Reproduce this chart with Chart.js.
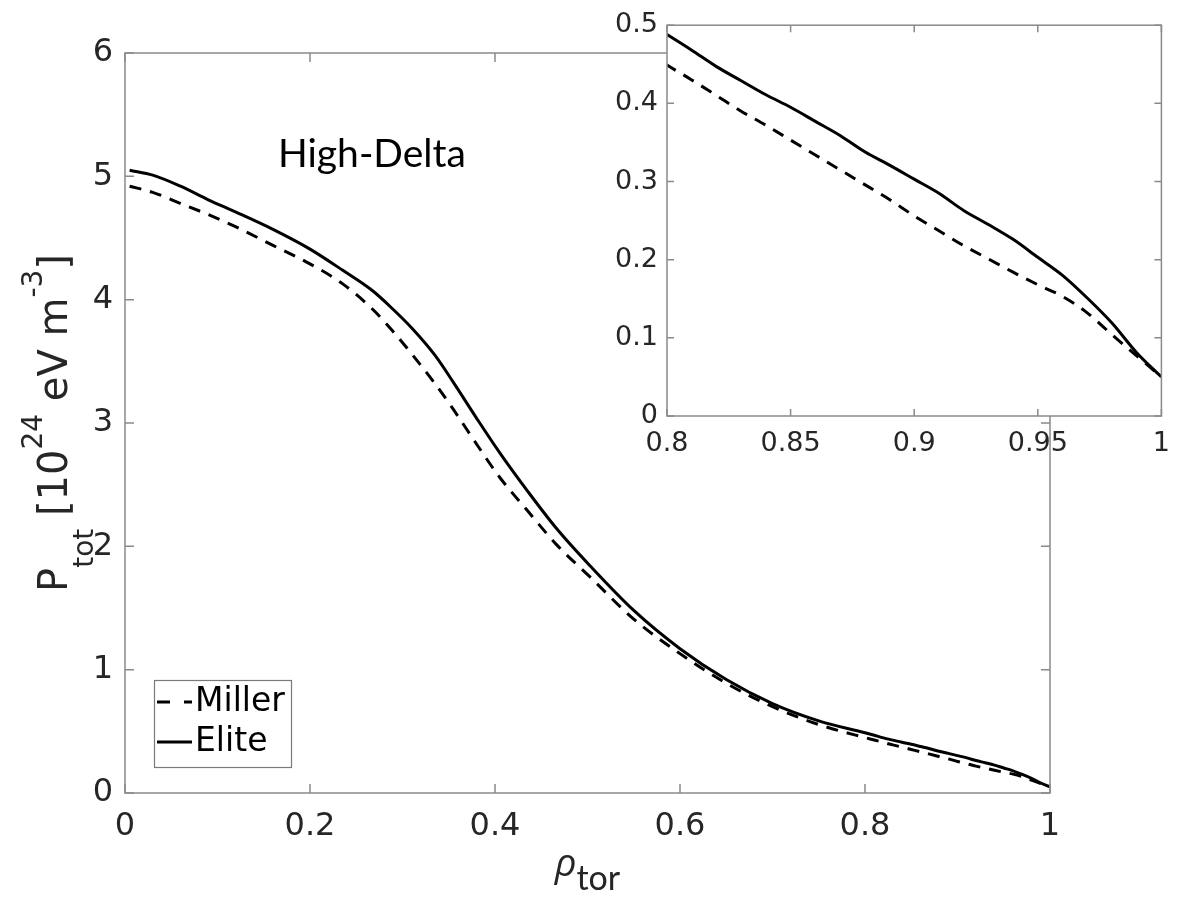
<!DOCTYPE html>
<html><head><meta charset="utf-8">
<script src="https://cdn.jsdelivr.net/npm/chart.js@4.4.0/dist/chart.umd.min.js"></script>
<style>
html,body{margin:0;padding:0;background:#fff;}
#wrap{position:relative;width:1182px;height:901px;overflow:hidden;}
canvas{position:absolute;left:0;top:0;}
</style></head><body>
<div id="wrap"><canvas id="main" width="1182" height="901"></canvas><canvas id="inset" width="1182" height="901"></canvas></div>
<script>
// ---- data ----
const rho = [0.005,0.03,0.06,0.09,0.12,0.16,0.2,0.235,0.268,0.29,0.31,0.335,0.355,0.38,0.405,0.435,0.467,0.503,0.55,0.6,0.65,0.7,0.75,
  0.8,0.81,0.82,0.83,0.84,0.85,0.86,0.87,0.88,0.89,0.9,0.91,0.92,0.93,0.94,0.95,0.96,0.97,0.98,0.99,1.0];
const millerP = [4.92,4.87,4.78,4.69,4.59,4.44,4.29,4.13,3.92,3.74,3.56,3.32,3.11,2.83,2.56,2.29,2.01,1.75,1.41,1.13,0.89,0.70,0.555,
  0.449,0.430,0.410,0.390,0.372,0.353,0.334,0.315,0.296,0.277,0.256,0.237,0.218,0.201,0.184,0.168,0.153,0.132,0.104,0.077,0.050];
const eliteP = [5.05,5.01,4.92,4.81,4.71,4.57,4.41,4.24,4.07,3.92,3.77,3.55,3.33,3.04,2.76,2.45,2.14,1.84,1.48,1.17,0.92,0.725,0.585,
  0.488,0.468,0.447,0.429,0.411,0.395,0.377,0.359,0.338,0.321,0.303,0.285,0.263,0.245,0.226,0.203,0.180,0.151,0.119,0.081,0.050];
const seriesNames = ['Miller','Elite'];
const mainXTicks = [0,0.2,0.4,0.6,0.8,1];
const mainXTickLabels = ['0','0.2','0.4','0.6','0.8','1'];
const mainYTicks = [0,1,2,3,4,5,6];
const mainYTickLabels = ['0','1','2','3','4','5','6'];
const insetXTicks = [0.8,0.85,0.9,0.95,1];
const insetXTickLabels = ['0.8','0.85','0.9','0.95','1'];
const insetYTicks = [0,0.1,0.2,0.3,0.4,0.5];
const insetYTickLabels = ['0','0.1','0.2','0.3','0.4','0.5'];
const annotationText = 'High-Delta';

// ---- helpers ----
const AX = '#8a8a8a', TXT = '#262626';
function pts(ys){ return rho.map((r,i)=>({x:r,y:ys[i]})); }
function datasets(){
  return [
    {label:seriesNames[0], data:pts(millerP), borderColor:'#000', borderWidth:3, borderDash:[12,9], pointRadius:0, cubicInterpolationMode:'monotone', fill:false},
    {label:seriesNames[1], data:pts(eliteP), borderColor:'#000', borderWidth:3, pointRadius:0, cubicInterpolationMode:'monotone', fill:false}
  ];
}
function setTicks(vals){ return function(scale){ scale.ticks = vals.map(v=>({value:v})); }; }
function lbl(vals, labels){ return function(v){ const i = vals.findIndex(t=>Math.abs(t-v)<1e-9); return i>=0?labels[i]:''; }; }

const frame = {
  id:'frame',
  beforeDatasetsDraw(chart,args,o){
    if(o.bg){ const {ctx,chartArea:a}=chart; ctx.save(); ctx.fillStyle=o.bg; ctx.fillRect(a.left,a.top,a.right-a.left,a.bottom-a.top); ctx.restore(); }
  },
  afterDatasetsDraw(chart,args,o){
    const {ctx,chartArea:a,scales}=chart; ctx.save(); ctx.strokeStyle=AX; ctx.lineWidth=o.width||1.5;
    ctx.beginPath();
    for(const t of scales.x.ticks){ const p=scales.x.getPixelForValue(t.value); ctx.moveTo(p,a.bottom); ctx.lineTo(p,a.bottom-o.len); ctx.moveTo(p,a.top); ctx.lineTo(p,a.top+o.len); }
    for(const t of scales.y.ticks){ const p=scales.y.getPixelForValue(t.value); ctx.moveTo(a.left,p); ctx.lineTo(a.left+o.len,p); ctx.moveTo(a.right,p); ctx.lineTo(a.right-o.len,p); }
    ctx.stroke();
    ctx.strokeRect(a.left,a.top,a.right-a.left,a.bottom-a.top);
    ctx.restore();
  }
};

function richWidth(ctx, parts){ let w=0; for(const p of parts){ ctx.font=p.font; w+=ctx.measureText(p.t).width; } return w; }
function drawRich(ctx, parts){ let x=0; for(const p of parts){ ctx.font=p.font; ctx.fillText(p.t, x, p.dy||0); x+=ctx.measureText(p.t).width; } }

const decorations = {
  id:'decorations',
  afterDraw(chart){
    const {ctx,chartArea:a}=chart;
    ctx.save();
    // annotation text
    ctx.fillStyle='#000'; ctx.font='39px Lato, "Open Sans", sans-serif'; ctx.textBaseline='alphabetic'; ctx.textAlign='left';
    ctx.fillText(annotationText, 278, 167);
    // y-axis title
    const big='40px "DejaVu Sans"', sm='28px "DejaVu Sans"';
    const yParts=[{t:'P',font:big},{t:'tot',font:sm,dy:26},{t:' [10',font:big},{t:'24',font:sm,dy:-25},{t:' eV m',font:big},{t:'-3',font:sm,dy:-25},{t:']',font:big}];
    ctx.fillStyle=TXT;
    const yw=richWidth(ctx,yParts);
    ctx.save(); ctx.translate(67,(a.top+a.bottom)/2+yw/2); ctx.rotate(-Math.PI/2); drawRich(ctx,yParts); ctx.restore();
    // x-axis title
    const xParts=[{t:'\u03C1',font:'italic 38px "Open Sans", Lato, sans-serif'},{t:'tor',font:'34px Lato, "Open Sans", sans-serif',dy:14}];
    const xw=richWidth(ctx,xParts);
    ctx.save(); ctx.translate((a.left+a.right)/2-xw/2, 876); drawRich(ctx,xParts); ctx.restore();
    // legend
    const bx=a.left+29, by=a.bottom-113, bw=137, bh=87;
    ctx.fillStyle='#fff'; ctx.fillRect(bx,by,bw,bh);
    ctx.strokeStyle='#7a7a7a'; ctx.lineWidth=1.2; ctx.strokeRect(bx+0.5,by+0.5,bw,bh);
    chart.data.datasets.forEach((ds,i)=>{
      const ly=by+22+i*40;
      ctx.strokeStyle=ds.borderColor; ctx.lineWidth=ds.borderWidth; ctx.setLineDash(ds.borderDash?[13,14]:[]);
      ctx.beginPath(); ctx.moveTo(bx+3,ly); ctx.lineTo(bx+38,ly); ctx.stroke(); ctx.setLineDash([]);
      ctx.fillStyle='#000'; ctx.font='33px "DejaVu Sans"'; ctx.textBaseline='middle';
      ctx.fillText(ds.label, bx+41, ly);
    });
    ctx.restore();
  }
};

const tickFontMain={family:'"DejaVu Sans"',size:32};
const tickFontInset={family:'"DejaVu Sans"',size:27};

new Chart(document.getElementById('main'),{
  type:'line',
  data:{datasets:datasets()},
  plugins:[frame,decorations],
  options:{
    responsive:false, animation:false, devicePixelRatio:1,
    layout:{padding:{left:0,right:132,top:53,bottom:0}},
    plugins:{legend:{display:false},tooltip:{enabled:false},frame:{len:9,width:1.5}},
    scales:{
      x:{type:'linear',min:0,max:1,position:'bottom',afterBuildTicks:setTicks(mainXTicks),
         ticks:{callback:lbl(mainXTicks,mainXTickLabels),font:tickFontMain,color:TXT,padding:14,maxRotation:0,autoSkip:false},
         grid:{display:false,drawTicks:false},border:{display:false},afterFit:s=>{s.height=108;}},
      y:{type:'linear',min:0,max:6,afterBuildTicks:setTicks(mainYTicks),
         ticks:{callback:lbl(mainYTicks,mainYTickLabels),font:tickFontMain,color:TXT,padding:12,autoSkip:false},
         grid:{display:false,drawTicks:false},border:{display:false},afterFit:s=>{s.width=125;}}
    }
  }
});

new Chart(document.getElementById('inset'),{
  type:'line',
  data:{datasets:datasets()},
  plugins:[frame],
  options:{
    responsive:false, animation:false, devicePixelRatio:1,
    layout:{padding:{left:0,right:20,top:20,bottom:0}},
    plugins:{legend:{display:false},tooltip:{enabled:false},frame:{len:7,width:1.5,bg:'#fff'}},
    scales:{
      x:{type:'linear',min:0.8,max:1,position:'bottom',afterBuildTicks:setTicks(insetXTicks),
         ticks:{callback:lbl(insetXTicks,insetXTickLabels),font:tickFontInset,color:TXT,padding:12,maxRotation:0,autoSkip:false},
         grid:{display:false,drawTicks:false},border:{display:false},afterFit:s=>{s.height=485;}},
      y:{type:'linear',min:0,max:0.5,afterBuildTicks:setTicks(insetYTicks),
         ticks:{callback:lbl(insetYTicks,insetYTickLabels),font:tickFontInset,color:TXT,padding:9,autoSkip:false},
         grid:{display:false,drawTicks:false},border:{display:false},afterFit:s=>{s.width=667;}}
    }
  }
});
</script>
</body></html>
